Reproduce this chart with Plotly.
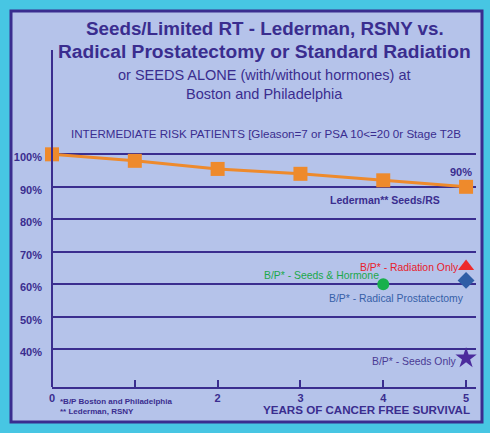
import plotly.graph_objects as go

# ---- data ----
years = [0, 1, 2, 3, 4, 5]
lederman = [100, 98, 95.5, 94, 92, 90]
radiation_x, radiation_y = [5], [65.5]
prostatectomy_x, prostatectomy_y = [5], [61.2]
seeds_hormone_x, seeds_hormone_y = [4], [60]
seeds_only_x, seeds_only_y = [5], [37.3]

y_ticks = [40, 50, 60, 70, 80, 90, 100]
y_tick_labels = ["40%", "50%", "60%", "70%", "80%", "90%", "100%"]
x_ticks = [0, 1, 2, 3, 4, 5]
x_tick_labels = ["0", "", "2", "3", "4", "5"]

NAVY = "#3A2D8F"
W, H = 490, 433
L, R, T, B = 52, 14, 50, 46
PW, PH = W - L - R, H - T - B


def px(xpix):
    return (xpix - L) / PW


def py(ypix):
    return (H - B - ypix) / PH


fig = go.Figure()

fig.add_trace(go.Scatter(
    x=years, y=lederman, mode="lines+markers",
    line=dict(color="#EE8A2C", width=3),
    marker=dict(symbol="square", size=14, color="#EE8A2C"),
    showlegend=False, cliponaxis=False))
fig.add_trace(go.Scatter(
    x=radiation_x, y=radiation_y, mode="markers",
    marker=dict(symbol="triangle-up", size=14, color="#EE2A2A"),
    showlegend=False, cliponaxis=False))
fig.add_trace(go.Scatter(
    x=prostatectomy_x, y=prostatectomy_y, mode="markers",
    marker=dict(symbol="diamond", size=13, color="#2F5EA6"),
    showlegend=False, cliponaxis=False))
fig.add_trace(go.Scatter(
    x=seeds_hormone_x, y=seeds_hormone_y, mode="markers",
    marker=dict(symbol="circle", size=12, color="#18B04C"),
    showlegend=False, cliponaxis=False))
fig.add_trace(go.Scatter(
    x=seeds_only_x, y=seeds_only_y, mode="markers",
    marker=dict(symbol="star", size=16, color="#4B2C9C"),
    showlegend=False, cliponaxis=False))

# panel background
fig.add_shape(type="rect", xref="paper", yref="paper",
              x0=px(11), x1=px(482), y0=py(422), y1=py(11),
              fillcolor="#B5C3EA", line=dict(color=NAVY, width=3), layer="below")
# y axis line extending up into title
fig.add_shape(type="line", xref="paper", yref="paper",
              x0=0, x1=0, y0=0, y1=1, line=dict(color=NAVY, width=2))

ann = []
title_font = "Liberation Sans, Arial, sans-serif"
narrow_font = "Liberation Sans Narrow, Arial Narrow, Liberation Sans, sans-serif"
ann.append(dict(text="<b>Seeds/Limited RT - Lederman, RSNY vs.</b>", x=px(265), y=py(29),
                font=dict(size=18.8, color=NAVY, family=title_font)))
ann.append(dict(text="<b>Radical Prostatectomy or Standard Radiation</b>", x=px(264.5), y=py(52),
                font=dict(size=19.2, color=NAVY, family=title_font)))
ann.append(dict(text="or SEEDS ALONE (with/without hormones) at", x=px(264.5), y=py(75),
                font=dict(size=14.5, color=NAVY, family=narrow_font)))
ann.append(dict(text="Boston and Philadelphia", x=px(264.5), y=py(94),
                font=dict(size=14.5, color=NAVY, family=narrow_font)))
ann.append(dict(text="INTERMEDIATE RISK PATIENTS [Gleason=7 or PSA 10<=20 0r Stage T2B",
                x=px(265.5), y=py(133),
                font=dict(size=11.6, color=NAVY, family=title_font)))
for a in ann:
    a.update(xref="paper", yref="paper", xanchor="center", yanchor="middle", showarrow=False)

labels = [
    dict(text="<b>90%</b>", x=years[-1], y=lederman[-1], xshift=-5, yshift=15,
         xanchor="center", font=dict(size=11, color=NAVY)),
    dict(text="<b>Lederman** Seeds/RS</b>", x=4, y=lederman[4], xshift=2, yshift=-20,
         xanchor="center", font=dict(size=10.5, color=NAVY)),
    dict(text="B/P* - Radiation Only", x=radiation_x[0], y=radiation_y[0], xshift=-5, yshift=-1,
         xanchor="right", font=dict(size=10.4, color="#E8202A")),
    dict(text="B/P* - Radical Prostatectomy", x=prostatectomy_x[0], y=prostatectomy_y[0],
         xshift=0, yshift=-18, xanchor="right", font=dict(size=10.4, color="#3560A8")),
    dict(text="B/P* - Seeds & Hormone", x=seeds_hormone_x[0], y=seeds_hormone_y[0],
         xshift=-2, yshift=9, xanchor="right", font=dict(size=10.4, color="#1BA84A")),
    dict(text="B/P* - Seeds Only", x=seeds_only_x[0], y=seeds_only_y[0],
         xshift=-7, yshift=-3, xanchor="right", font=dict(size=10.4, color="#4A3A94")),
]
for a in labels:
    a.update(xref="x", yref="y", yanchor="middle", showarrow=False)
    a["font"]["family"] = title_font
    ann.append(a)

ann.append(dict(text="<b>*B/P Boston and Philadelphia</b>", x=px(58), y=py(401),
                xref="paper", yref="paper", xanchor="left", yanchor="middle", showarrow=False,
                font=dict(size=8, color=NAVY, family=title_font)))
ann.append(dict(text="<b>** Lederman, RSNY</b>", x=px(58), y=py(411),
                xref="paper", yref="paper", xanchor="left", yanchor="middle", showarrow=False,
                font=dict(size=8, color=NAVY, family=title_font)))
ann.append(dict(text="<b>YEARS OF CANCER FREE SURVIVAL</b>", x=px(472), y=py(409),
                xref="paper", yref="paper", xanchor="right", yanchor="middle", showarrow=False,
                font=dict(size=11.6, color=NAVY, family=title_font)))

fig.update_layout(
    width=W, height=H,
    margin=dict(l=L, r=R, t=T, b=B, pad=0),
    paper_bgcolor="#47C6E3",
    plot_bgcolor="rgba(0,0,0,0)",
    annotations=ann,
    showlegend=False,
    font=dict(family=title_font, color=NAVY),
)
fig.update_xaxes(
    range=[0, 5.12], showgrid=False, zeroline=False,
    showline=True, linecolor=NAVY, linewidth=2,
    tickvals=x_ticks, ticktext=x_tick_labels,
    ticks="inside", ticklen=7, tickwidth=1.5, tickcolor=NAVY,
    tickfont=dict(size=11, color=NAVY, family=title_font, weight="bold"),
)
fig.update_yaxes(
    range=[28.4, 132.1], showgrid=True, gridcolor=NAVY, gridwidth=2, zeroline=False,
    showline=False,
    tickvals=y_ticks, ticktext=y_tick_labels, ticks="",
    ticklabelstandoff=9, ticklabelshift=3,
    tickfont=dict(size=11, color=NAVY, family=title_font, weight="bold"),
)

fig.write_html(
    "out.html",
    config={"displayModeBar": False},
    post_script="document.body.style.margin='0';document.body.style.background='#47C6E3';",
)
